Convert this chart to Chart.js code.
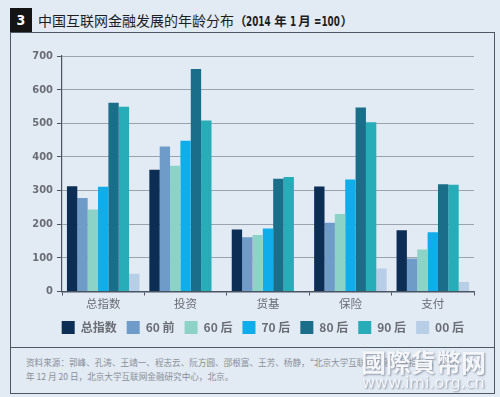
<!DOCTYPE html>
<html>
<head>
<meta charset="utf-8">
<script src="https://cdn.jsdelivr.net/npm/chart.js@4"></script>
<style>
  html, body { margin: 0; padding: 0; }
  body {
    width: 500px; height: 397px; position: relative; overflow: hidden;
    background: #e2eaf4; font-family: "Noto Sans CJK SC", "Noto Sans", sans-serif;
  }
  .num {
    position: absolute; left: 10px; top: 8px; width: 22px; height: 24px;
    background: #141414; color: #fff; font: bold 14px "DejaVu Sans Condensed", sans-serif;
    text-align: center; line-height: 24px;
  }
  .title {
    position: absolute; left: 38px; top: 9px; font-size: 14px; color: #1e1e1e;
    line-height: 22px; white-space: nowrap;
  }
  .title .p { font-size: 12.5px; font-weight: bold; }
  .title .br { letter-spacing: -3px; }
  .title b {
    display: inline-block; font-family: "DejaVu Sans Condensed", sans-serif; font-size: 14px;
    transform: scaleX(0.7); transform-origin: left center;
  }
  .frame {
    position: absolute; left: 10px; top: 32px; width: 483px; height: 360px;
    border: 1px solid #4d5865;
  }
  .sep { position: absolute; left: 10px; top: 347px; width: 485px; height: 1px; background: #4d5865; }
  .chart-box { position: absolute; left: 11px; top: 33px; width: 482px; height: 314px; }
  .source {
    position: absolute; left: 26px; top: 355px; width: 470px; font-size: 8.6px;
    color: #8a8f96; line-height: 14px;
  }
  .wm1 {
    position: absolute; left: 361px; top: 345px; font-size: 25px; color: #f4f6fa;
    font-family: "Noto Sans CJK TC", sans-serif; font-weight: bold; line-height: 32px;
    text-shadow: 1px 1px 2px #8a93a0; white-space: nowrap;
  }
  .wm2 {
    position: absolute; left: 362px; top: 374px; font-size: 16px; color: #f4f6fa; line-height: 18px;
    font-family: "DejaVu Sans", sans-serif; text-shadow: 1px 1px 2px #8a93a0; white-space: nowrap;
  }
</style>
</head>
<body>
<div class="num">3</div>
<div class="title">中国互联网金融发展的年龄分布<span class="p"><span class="br">（</span> <b style="margin-right:-10px">2014</b> 年 <b style="margin-right:-3px">1</b> 月 <b style="margin-right:-10px">=100</b>）</span></div>
<div class="frame"></div>
<div class="sep"></div>
<div class="chart-box"><canvas id="chart" width="482" height="314"></canvas></div>
<div class="source">资料来源：郭峰、孔涛、王靖一、程志云、阮方圆、邵根富、王芳、杨静，“北京大学互联网金融发展指数”，2016<br>年 12 月 20 日，北京大学互联网金融研究中心，北京。</div>
<div class="wm1">國際貨幣网</div>
<div class="wm2">www.imi.org.cn</div>
<script>
const categories = ["总指数", "投资", "货基", "保险", "支付"];
const seriesNames = ["总指数", "60 前", "60 后", "70 后", "80 后", "90 后", "00 后"];
const total = [313, 362, 184, 312, 182];
const pre60 = [278, 431, 161, 204, 98];
const post60 = [244, 374, 168, 230, 125];
const post70 = [311, 448, 187, 333, 176];
const post80 = [561, 661, 335, 547, 319];
const post90 = [549, 508, 340, 503, 317];
const post00 = [53, null, null, 68, 28];
const yTicks = [0, 100, 200, 300, 400, 500, 600, 700];

const colors = ["#0c2e55", "#6e9bc8", "#8dd2c6", "#0fadea", "#1a6e89", "#26adb8", "#b7cee6"];
const values = [total, pre60, post60, post70, post80, post90, post00];

const ctx = document.getElementById("chart").getContext("2d");
new Chart(ctx, {
  type: "bar",
  data: {
    labels: categories,
    datasets: seriesNames.map((name, i) => ({
      label: name,
      data: values[i],
      backgroundColor: colors[i],
      borderWidth: 0,
      barPercentage: 1,
      categoryPercentage: 0.88,
    })),
  },
  options: {
    responsive: false,
    animation: false,
    layout: { padding: { left: 0, right: 19, top: 23, bottom: 3 } },
    plugins: {
      tooltip: { enabled: false },
      legend: {
        position: "bottom",
        align: "end",
        labels: {
          boxWidth: 13,
          boxHeight: 13,
          padding: 10,
          color: "#6a6e74",
          font: { family: "Noto Sans CJK SC", size: 12, weight: "bold" },
        },
      },
    },
    scales: {
      x: {
        border: { color: "#4a5562", width: 1.5 },
        grid: { drawOnChartArea: false, drawTicks: true, tickLength: 4, color: "#4a5562" },
        ticks: { color: "#6a6e74", padding: 2, font: { family: "Noto Sans CJK SC", size: 11.5, lineHeight: 1 } },
      },
      y: {
        min: 0,
        max: 700,
        afterFit: (s) => { s.width = 51; },
        afterBuildTicks: (s) => { s.ticks = yTicks.map((v) => ({ value: v })); },
        border: { color: "#4a5562", width: 1.2 },
        grid: {
          color: (c) => (c.tick && c.tick.value === 0 ? "rgba(0,0,0,0)" : "#9ba4ae"),
          borderDash: [2, 2],
          tickColor: "#4a5562",
          tickBorderDash: [],
          tickLength: 5,
        },
        ticks: {
          color: "#6a6e74",
          padding: 4,
          font: { family: "DejaVu Sans Condensed", size: 11, weight: "bold" },
        },
      },
    },
  },
});
</script>
</body>
</html>
